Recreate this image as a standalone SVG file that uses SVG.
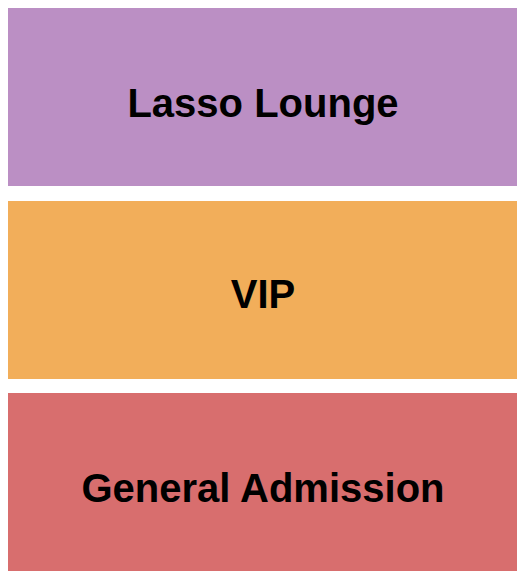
<svg xmlns="http://www.w3.org/2000/svg" width="525" height="580" viewBox="0 0 525 580">
<style>
.lbl{font-family:"Liberation Sans",Arial,sans-serif;font-weight:bold;font-size:40px;fill:#000;text-anchor:middle}
</style>
<rect width="525" height="580" fill="#fff"/>
<g id="lasso-lounge">
<rect x="8" y="8" width="509" height="178" fill="#BB8FC4"/>
<text class="lbl" x="263" y="117">Lasso Lounge</text>
</g>
<g id="vip">
<rect x="8" y="201" width="509" height="178" fill="#F2AE5A"/>
<text class="lbl" x="263" y="308">VIP</text>
</g>
<g id="general-admission">
<rect x="8" y="393" width="509" height="178" fill="#D86E6E"/>
<text class="lbl" x="263" y="502">General Admission</text>
</g>
<g id="connectors"/>
</svg>
